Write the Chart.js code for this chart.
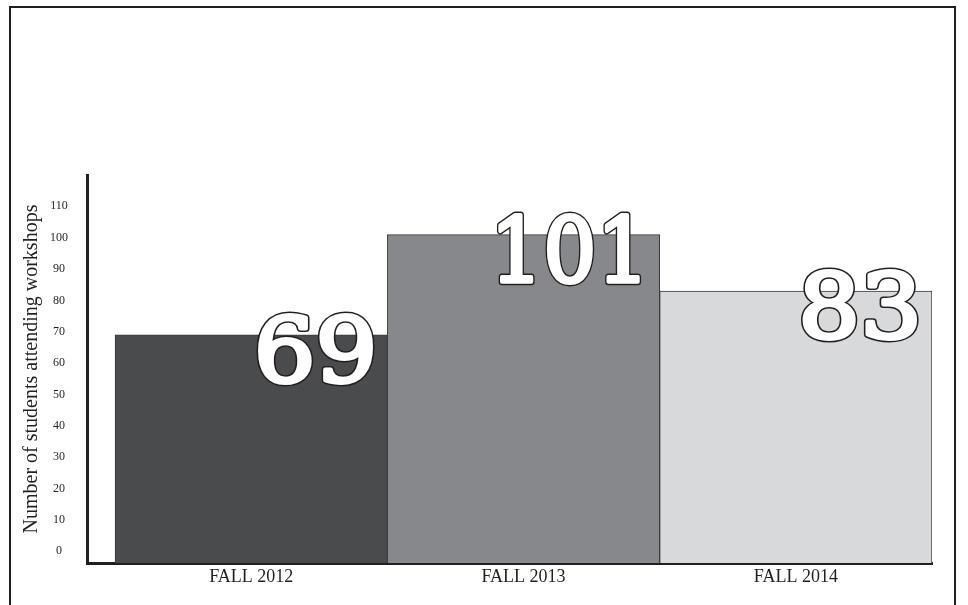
<!DOCTYPE html>
<html>
<head>
<meta charset="utf-8">
<script src="https://cdn.jsdelivr.net/npm/chart.js@4"></script>
<style>
  html, body { margin: 0; padding: 0; background: #fff; }
  #wrap { position: relative; width: 968px; height: 605px; overflow: hidden; }
  #frame { position: absolute; left: 9px; top: 6px; width: 943px; height: 700px;
           border: 2px solid #231f20; border-bottom: none; }
  #chart { position: absolute; left: 0; top: 0; }
</style>
</head>
<body>
<div id="wrap">
  <div id="frame"></div>
  <canvas id="chart" width="968" height="605"></canvas>
</div>
<script>
const categories = ["FALL 2012", "FALL 2013", "FALL 2014"];
const students = [69, 101, 83];
const barColors = ["#4a4b4d", "#87888b", "#d8d9db"];
const yTicks = [0, 10, 20, 30, 40, 50, 60, 70, 80, 90, 100, 110];

const INK = "#231f20";
Chart.defaults.color = INK;

// big outlined value labels near each bar's top right corner
const bigLabels = {
  id: "bigLabels",
  afterDatasetsDraw(chart) {
    const ctx = chart.ctx;
    const meta = chart.getDatasetMeta(0);
    ctx.save();
    ctx.font = "90px 'DejaVu Serif'";
    ctx.textAlign = "right";
    ctx.textBaseline = "alphabetic";
    ctx.lineJoin = "round";
    meta.data.forEach((bar, i) => {
      const txt = String(students[i]);
      const right = bar.x + bar.width / 2 - 10;
      const y = bar.y + 47;
      ctx.save();
      ctx.translate(right, y);
      ctx.scale(txt.length > 2 ? 0.93 : 1.08, 1);
      ctx.strokeStyle = INK;
      ctx.lineWidth = 7;
      ctx.strokeText(txt, 0, 0);
      ctx.strokeStyle = "#fff";
      ctx.lineWidth = 4;
      ctx.strokeText(txt, 0, 0);
      ctx.fillStyle = "#fff";
      ctx.fillText(txt, 0, 0);
      ctx.restore();
    });
    ctx.restore();
  }
};

new Chart(document.getElementById("chart"), {
  type: "bar",
  data: {
    datasets: [{
      data: categories.map((c, i) => ({ x: i, y: students[i] })),
      backgroundColor: barColors,
      borderColor: "#3a3a3c",
      borderWidth: 1,
      base: -3.8,
      barPercentage: 1,
      categoryPercentage: 1
    }]
  },
  options: {
    responsive: false,
    animation: false,
    events: [],
    layout: { padding: { top: 175, right: 36, left: 0, bottom: 0 } },
    plugins: { legend: { display: false }, tooltip: { enabled: false } },
    scales: {
      x: {
        type: "linear",
        offset: false,
        min: -0.603,
        max: 2.5,
        grid: { display: false },
        border: { display: true, color: INK, width: 3 },
        afterBuildTicks: s => { s.ticks = categories.map((c, i) => ({ value: i })); },
        afterFit: s => { s.height = 42; },
        ticks: {
          autoSkip: false,
          maxRotation: 0,
          padding: -5,
          font: { family: "'Liberation Serif'", size: 18 },
          callback: v => categories[v]
        }
      },
      y: {
        min: -3.8,
        max: 120,
        grid: { display: false },
        border: { display: true, color: INK, width: 3 },
        afterBuildTicks: s => { s.ticks = yTicks.map(v => ({ value: v })); },
        afterFit: s => { s.width = 87; },
        ticks: {
          crossAlign: "center",
          padding: 11,
          font: { family: "'Liberation Serif'", size: 12 }
        },
        title: {
          display: true,
          text: "Number of students attending workshops",
          font: { family: "'Liberation Serif'", size: 20 },
          padding: { top: 20, bottom: 0 }
        }
      }
    }
  },
  plugins: [bigLabels]
});
</script>
</body>
</html>
